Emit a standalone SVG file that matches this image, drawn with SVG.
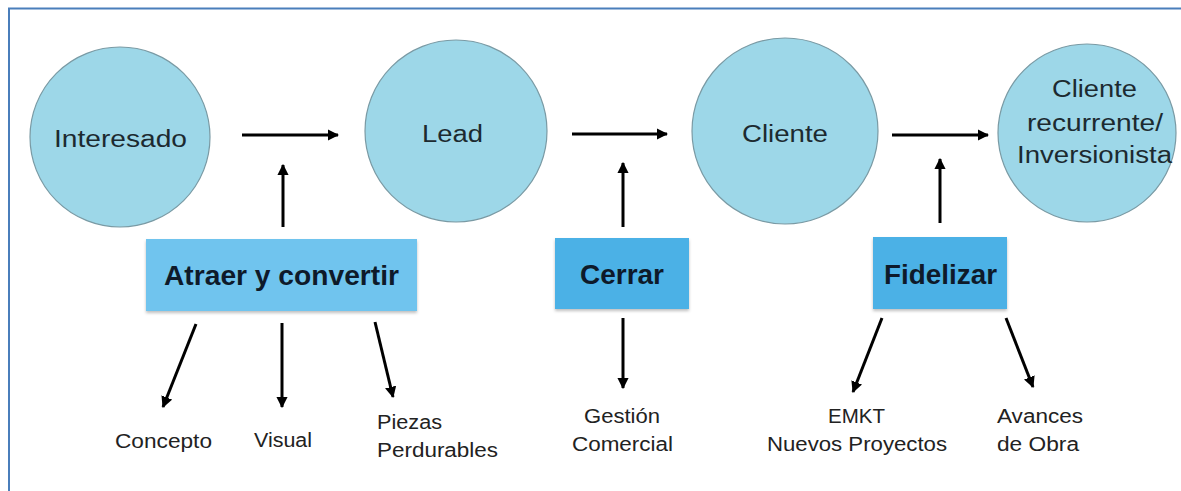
<svg xmlns="http://www.w3.org/2000/svg" width="1181" height="491" viewBox="0 0 1181 491">
<style>
.c{fill:#9dd7e8;stroke:#7a9aa4;stroke-width:1.2}
.ct{font-family:"Liberation Sans",Arial,sans-serif;font-size:23px;fill:#1c2a30;text-anchor:middle}
.bt{font-family:"Liberation Sans",Arial,sans-serif;font-size:27px;font-weight:bold;fill:#0e1a2a;text-anchor:middle}
.lt{font-family:"Liberation Sans",Arial,sans-serif;font-size:20px;fill:#222}
.a{stroke:#000;stroke-width:3;fill:none;marker-end:url(#ah)}
</style>
<defs>
<marker id="ah" viewBox="0 0 10 10" refX="9" refY="5" markerWidth="3.8" markerHeight="3.8" orient="auto" markerUnits="strokeWidth">
<path d="M0,0 L10,5 L0,10 z" fill="#000"/>
</marker>
<filter id="sh" x="-10%" y="-10%" width="120%" height="130%">
<feDropShadow dx="0" dy="2" stdDeviation="1.5" flood-color="#000" flood-opacity="0.25"/>
</filter>
</defs>
<rect width="1181" height="491" fill="#fff"/>
<path d="M9,491 V8.5 H1181" fill="none" stroke="#4a7ebb" stroke-width="2"/>
<g id="interesado"><circle class="c" cx="120" cy="137" r="90"/><text class="ct" x="120.5" y="147" textLength="133" lengthAdjust="spacingAndGlyphs">Interesado</text></g>
<g id="lead"><circle class="c" cx="456" cy="131" r="91"/><text class="ct" x="452.5" y="142" textLength="61" lengthAdjust="spacingAndGlyphs">Lead</text></g>
<g id="cliente"><circle class="c" cx="785" cy="131" r="93"/><text class="ct" x="785" y="142" textLength="86" lengthAdjust="spacingAndGlyphs">Cliente</text></g>
<g id="cliente-recurrente"><circle class="c" cx="1087" cy="133" r="89"/>
<text class="ct" x="1094.5" y="97" textLength="85" lengthAdjust="spacingAndGlyphs">Cliente</text>
<text class="ct" x="1095" y="131" textLength="136" lengthAdjust="spacingAndGlyphs">recurrente/</text>
<text class="ct" x="1094.5" y="163" textLength="155" lengthAdjust="spacingAndGlyphs">Inversionista</text></g>
<g id="atraer"><rect x="146" y="239" width="271" height="72" fill="#6fc4ee" filter="url(#sh)"/><text class="bt" x="281.5" y="285" textLength="235" lengthAdjust="spacingAndGlyphs">Atraer y convertir</text></g>
<g id="cerrar"><rect x="555" y="238" width="134" height="71" fill="#4cb1e6" filter="url(#sh)"/><text class="bt" x="622" y="284" textLength="84" lengthAdjust="spacingAndGlyphs">Cerrar</text></g>
<g id="fidelizar"><rect x="873" y="237" width="134" height="72" fill="#4cb1e6" filter="url(#sh)"/><text class="bt" x="940.5" y="284" textLength="113" lengthAdjust="spacingAndGlyphs">Fidelizar</text></g>
<g id="labels">
<text class="lt" x="115" y="447.5" textLength="97" lengthAdjust="spacingAndGlyphs">Concepto</text>
<text class="lt" x="254" y="447" textLength="58" lengthAdjust="spacingAndGlyphs">Visual</text>
<text class="lt" x="377" y="429" textLength="65" lengthAdjust="spacingAndGlyphs">Piezas</text>
<text class="lt" x="377" y="457" textLength="121" lengthAdjust="spacingAndGlyphs">Perdurables</text>
<text class="lt" x="584" y="423" textLength="76" lengthAdjust="spacingAndGlyphs">Gestión</text>
<text class="lt" x="572" y="450.5" textLength="101" lengthAdjust="spacingAndGlyphs">Comercial</text>
<text class="lt" x="828" y="423" textLength="57" lengthAdjust="spacingAndGlyphs">EMKT</text>
<text class="lt" x="767" y="450.5" textLength="180" lengthAdjust="spacingAndGlyphs">Nuevos Proyectos</text>
<text class="lt" x="997" y="423" textLength="86" lengthAdjust="spacingAndGlyphs">Avances</text>
<text class="lt" x="997" y="450.5" textLength="82" lengthAdjust="spacingAndGlyphs">de Obra</text>
</g>
<g id="connectors">
<line class="a" x1="242" y1="135" x2="338" y2="135"/>
<line class="a" x1="572" y1="134" x2="667" y2="134"/>
<line class="a" x1="892" y1="135" x2="988" y2="135"/>
<line class="a" x1="283" y1="227" x2="283" y2="165"/>
<line class="a" x1="623" y1="227" x2="623" y2="163"/>
<line class="a" x1="940" y1="223" x2="940" y2="159"/>
<line class="a" x1="196" y1="324" x2="163" y2="407"/>
<line class="a" x1="282" y1="323" x2="282" y2="407"/>
<line class="a" x1="375" y1="322" x2="393" y2="397"/>
<line class="a" x1="623" y1="318" x2="623" y2="388"/>
<line class="a" x1="882" y1="318" x2="853" y2="392"/>
<line class="a" x1="1006" y1="318" x2="1033" y2="387"/>
</g>
</svg>
